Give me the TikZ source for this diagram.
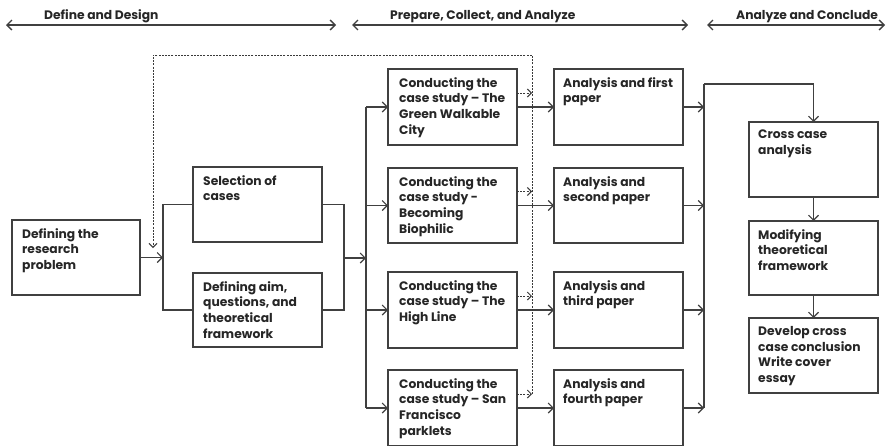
\documentclass[tikz,border=0pt]{standalone}
\usepackage{fontspec}
\setmainfont{Poppins}
\usetikzlibrary{arrows.meta,calc}
\definecolor{ln}{HTML}{404040}
\definecolor{tx}{HTML}{262626}
\begin{document}
\begin{tikzpicture}[x=1pt,y=-1pt,
  box/.style={draw=ln,line width=1.1pt,minimum width=129pt,minimum height=76pt,anchor=north west,inner sep=0pt,outer sep=0pt},
  txt/.style={font=\bfseries\fontsize{12.3}{15.7}\selectfont,align=left,inner sep=0pt,anchor=north west,text=tx},
  hdr/.style={font=\bfseries\fontsize{12.3}{14}\selectfont,inner sep=0pt,anchor=base west,text=tx},
  arr/.style={draw=ln,line width=1.1pt,-{Straight Barb[length=5pt,width=10pt]}},
  lin/.style={draw=ln,line width=1.1pt},
  dsh/.style={draw=ln!90!black,line width=1pt,dash pattern=on 2pt off 1.2pt},
  darr/.style={dsh,-{Straight Barb[length=4pt,width=8pt]}},
  harr/.style={draw=ln,line width=1.3pt,{Straight Barb[length=5pt,width=10pt]}-{Straight Barb[length=5pt,width=10pt]}}
]
\useasboundingbox[fill=white] (0,0) rectangle (886,445);

% headers
\coordinate (h1a) at (6,25); \coordinate (h1b) at (336,25);
\coordinate (h2a) at (352,25); \coordinate (h2b) at (688,25);
\coordinate (h3a) at (707,25); \coordinate (h3b) at (885,25);
\draw[harr] (h1a) -- (h1b);
\draw[harr] (h2a) -- (h2b);
\draw[harr] (h3a) -- (h3b);
\node[hdr] (t1) at (44,19) {Define and Design};
\node[hdr] (t2) at (390,19) {Prepare, Collect, and Analyze};
\node[hdr] (t3) at (736,19) {Analyze and Conclude};

% boxes
\node[box,minimum width=128pt,minimum height=75pt] (rp) at (12,220) {};
\node[box,minimum height=75pt] (sel) at (193,167) {};
\node[box,minimum height=74pt] (aim) at (193,273) {};
\node[box] (c1) at (388,69) {};
\node[box,minimum height=75pt] (c2) at (388,168) {};
\node[box] (c3) at (388,272) {};
\node[box] (c4) at (388,370) {};
\node[box] (a1) at (554,69) {};
\node[box,minimum height=75pt] (a2) at (554,168) {};
\node[box] (a3) at (554,272) {};
\node[box] (a4) at (554,370) {};
\node[box,minimum height=75pt] (cc) at (749,122) {};
\node[box,minimum height=74pt] (mt) at (749,221) {};
\node[box,minimum height=75pt] (dc) at (749,318) {};

% texts
\node[txt] (rpt) at ([xshift=10pt,yshift=-8pt]rp.north west) {Defining the\\research\\problem};
\node[txt] (selt) at ([xshift=10pt,yshift=-8pt]sel.north west) {Selection of\\cases};
\node[txt] (aimt) at ([xshift=10pt,yshift=-8pt]aim.north west) {Defining aim,\\questions, and\\theoretical\\framework};
\node[txt] (c1t) at ([xshift=11pt,yshift=-8pt]c1.north west) {Conducting the\\case study – The\\Green Walkable\\City};
\node[txt] (c2t) at ([xshift=11pt,yshift=-8pt]c2.north west) {Conducting the\\case study -\\Becoming\\Biophilic};
\node[txt] (c3t) at ([xshift=11pt,yshift=-8pt]c3.north west) {Conducting the\\case study – The\\High Line};
\node[txt] (c4t) at ([xshift=11pt,yshift=-8pt]c4.north west) {Conducting the\\case study – San\\Francisco\\parklets};
\node[txt] (a1t) at ([xshift=9pt,yshift=-8pt]a1.north west) {Analysis and first\\paper};
\node[txt] (a2t) at ([xshift=9pt,yshift=-8pt]a2.north west) {Analysis and\\second paper};
\node[txt] (a3t) at ([xshift=9pt,yshift=-8pt]a3.north west) {Analysis and\\third paper};
\node[txt] (a4t) at ([xshift=9pt,yshift=-8pt]a4.north west) {Analysis and\\fourth paper};
\node[txt] (cct) at ([xshift=9pt,yshift=-8pt]cc.north west) {Cross case\\analysis};
\node[txt] (mtt) at ([xshift=9pt,yshift=-8pt]mt.north west) {Modifying\\theoretical\\framework};
\node[txt] (dct) at ([xshift=9pt,yshift=-8pt]dc.north west) {Develop cross\\case conclusion\\Write cover\\essay};

% buses
\coordinate (b1) at (163,258);
\coordinate (b2) at (344,258);
\coordinate (b3) at (366,258);
\coordinate (b4) at (704,84);
\coordinate (dtop) at (532,55);
\coordinate (dl) at (153,55);
\coordinate (dend) at (153,248);

\draw[arr] (rp.east) -- (rp.east -| b1);
\draw[lin] (sel.west) -- (sel.west -| b1) -- (aim.west -| b1) -- (aim.west);
\draw[lin] (sel.east) -- (sel.east -| b2) -- (aim.east -| b2) -- (aim.east);
\draw[arr] (b2) -- (b3);
\draw[lin] (c1.west -| b3) -- (c4.west -| b3);
\foreach \i in {1,2,3,4}{
  \draw[arr] (c\i.west -| b3) -- (c\i.west);
  \draw[arr] (c\i.east) -- (a\i.west);
  \draw[arr] (a\i.east) -- (a\i.east -| b4);
  \draw[darr] ([yshift=14pt]c\i.east) -- ([yshift=14pt]c\i.east -| dtop);
}
\draw[lin] (b4) -- (a4.east -| b4);
\draw[arr] (b4) -- (b4 -| cc.north) -- (cc.north);
\draw[arr] (cc.south) -- (mt.north);
\draw[arr] (mt.south) -- (dc.north);

% feedback dashed
\draw[darr] ([yshift=14pt]c4.east -| dtop) -- (dtop) -- (dl) -- (dend);
\end{tikzpicture}
\end{document}
